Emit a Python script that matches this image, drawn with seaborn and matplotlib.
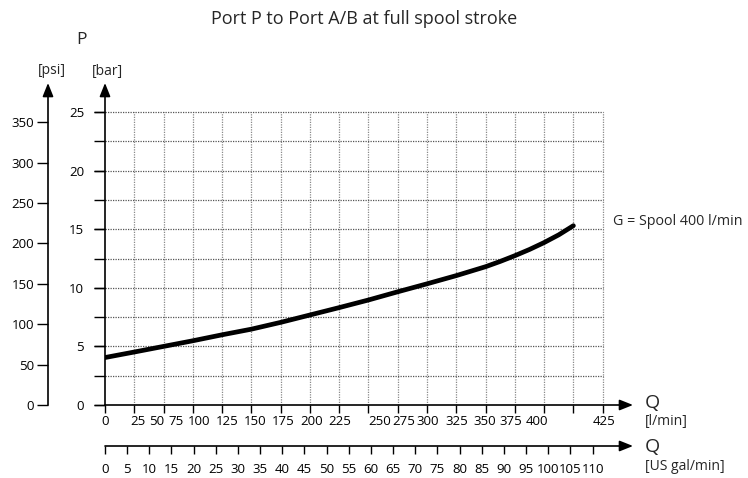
import numpy as np
import pandas as pd
import matplotlib
matplotlib.use("Agg")
import matplotlib.pyplot as plt
import seaborn as sns
from matplotlib.ticker import FixedLocator

# ---------------- data ----------------
title = "Port P to Port A/B at full spool stroke"
series_label = "G = Spool 400 l/min"
flow_lpm = [0, 25, 50, 75, 100, 125, 150, 175, 200, 225, 250, 275, 300, 325,
            337.5, 350, 362.5, 375, 387.5, 400]
pressure_bar = [4.05, 4.52, 5.0, 5.48, 5.99, 6.47, 7.05, 7.68, 8.31, 8.96, 9.66, 10.34,
                11.04, 11.8, 12.25, 12.74, 13.27, 13.86, 14.52, 15.3]

lpm_ticks = list(range(0, 426, 25))
lpm_tick_labels = [str(v) for v in lpm_ticks]
# where the l/min labels sit in the reference (they are squeezed, not on the ticks)
lpm_label_pos = [0, 28.2, 44.4, 60.6, 80.3, 104.2, 128.1, 152.0, 176.8, 200.7,
                 234.8, 255.3, 275.8, 300.6, 324.5, 346.7, 368.9, 426.1]
gal_ticks = list(range(0, 111, 5))
bar_ticks = [0, 5, 10, 15, 20, 25]
bar_minor = [0, 2.5, 5, 7.5, 10, 12.5, 15, 17.5, 20, 22.5, 25]
psi_ticks = [0, 50, 100, 150, 200, 250, 300, 350]
BAR_TO_PSI = 14.5038
LPM_PER_GAL = 3.78541

# ---------------- style ----------------
sns.set_style("white")
plt.rcParams["font.family"] = ["Open Sans", "DejaVu Sans"]
FS = 9.5
FU = 10

W, H = 748, 478
fig = plt.figure(figsize=(W / 100, H / 100), dpi=100)

x0, y0 = 105, 405          # origin in pixels (from top-left)
xend, ytop = 633, 83       # arrow tips
px_per_lpm = 1.171
px_per_bar = 11.72

ax = fig.add_axes([x0 / W, (H - y0) / H, (xend - x0) / W, (y0 - ytop) / H])
ax.set_xlim(0, (xend - x0) / px_per_lpm)
ax.set_ylim(0, (y0 - ytop) / px_per_bar)
for s in ax.spines.values():
    s.set_visible(False)

# grid (dotted) up to 25 bar / 425 l/min
grid_kw = dict(linestyles=(0, (1, 1)), linewidth=0.9, zorder=1)
ax.vlines(lpm_ticks[1:], 0, bar_ticks[-1], colors="#8a8a8a", **grid_kw)
ax.hlines(bar_minor[1:], 0, lpm_ticks[-1], colors="#555555", **grid_kw)

# curve
df = pd.DataFrame({"Q": flow_lpm, "P": pressure_bar})
sns.lineplot(data=df, x="Q", y="P", ax=ax, color="black", linewidth=3.4,
             solid_capstyle="round", solid_joinstyle="round", zorder=3)
ax.set_xlabel("")
ax.set_ylabel("")

# axis arrows
arrow = dict(arrowstyle="-|>,head_length=0.45,head_width=0.18", color="black",
             lw=1.2, shrinkA=0, shrinkB=0, mutation_scale=18)
ax.annotate("", xy=(1, 0), xytext=(0, 0), xycoords="axes fraction", arrowprops=arrow)
ax.annotate("", xy=(0, 1), xytext=(0, 0), xycoords="axes fraction", arrowprops=arrow)
psi_loc = (48 - x0) / (xend - x0)
ax.annotate("", xy=(psi_loc, 1), xytext=(psi_loc, 0), xycoords="axes fraction",
            arrowprops=arrow, annotation_clip=False)

# x ticks: marks on grid, labels where the reference puts them
ax.xaxis.remove_overlapping_locs = False
ax.xaxis.set_major_locator(FixedLocator(lpm_label_pos))
ax.set_xticklabels(lpm_tick_labels)
ax.xaxis.set_minor_locator(FixedLocator(lpm_ticks))
ax.tick_params(axis="x", which="major", length=0, pad=7, labelsize=FS, colors="black")
ax.tick_params(axis="x", which="minor", length=6, width=1, direction="out",
               color="black", bottom=True)

# bar y ticks
ax.yaxis.remove_overlapping_locs = False
ax.set_yticks(bar_ticks)
ax.set_yticklabels([str(v) for v in bar_ticks])
ax.yaxis.set_minor_locator(FixedLocator(bar_minor))
ax.tick_params(axis="y", which="major", length=8, width=1, pad=7, labelsize=FS,
               direction="out", left=True, colors="black")
ax.tick_params(axis="y", which="minor", length=8, width=1, direction="out", left=True,
               color="black")

# psi axis
sec = ax.secondary_yaxis(psi_loc, functions=(lambda b: b * BAR_TO_PSI,
                                             lambda p: p / BAR_TO_PSI))
sec.set_yticks(psi_ticks)
sec.set_yticklabels([str(v) for v in psi_ticks])
sec.tick_params(axis="y", length=8, width=1, pad=2, labelsize=FS, direction="out",
                colors="black")
for s in sec.spines.values():
    s.set_visible(False)

# US gal/min axis
gy = 446
gax = fig.add_axes([x0 / W, (H - gy) / H, (xend - x0) / W, 0.0005])
gax.set_xlim(0, ax.get_xlim()[1] / LPM_PER_GAL)
gax.set_yticks([])
for s in gax.spines.values():
    s.set_visible(False)
gax.set_facecolor("none")
gax.set_xticks(gal_ticks)
gax.set_xticklabels([str(v) for v in gal_ticks])
gax.tick_params(axis="x", length=6, width=1, pad=6, labelsize=FS, direction="out",
                bottom=True, colors="black")
gax.annotate("", xy=(1, 0), xytext=(0, 0), xycoords="axes fraction", arrowprops=arrow)

# texts
def ftxt(x, y, s, **kw):
    fig.text(x / W, 1 - y / H, s, **kw)

ftxt(364, 19, title, fontsize=13, ha="center", va="center")
ftxt(82, 40, "P", fontsize=12.5, ha="center", va="center")
ftxt(52, 71, "[psi]", fontsize=FU, ha="center", va="center")
ftxt(107, 71, "[bar]", fontsize=FU, ha="center", va="center")
ftxt(645, 403, "Q", fontsize=14, ha="left", va="center")
ftxt(645, 422, "[l/min]", fontsize=FU, ha="left", va="center")
ftxt(645, 447, "Q", fontsize=14, ha="left", va="center")
ftxt(645, 467, "[US gal/min]", fontsize=FU, ha="left", va="center")
ftxt(613, 222, series_label, fontsize=10.3, ha="left", va="center")

fig.savefig("out.png", dpi=100)
